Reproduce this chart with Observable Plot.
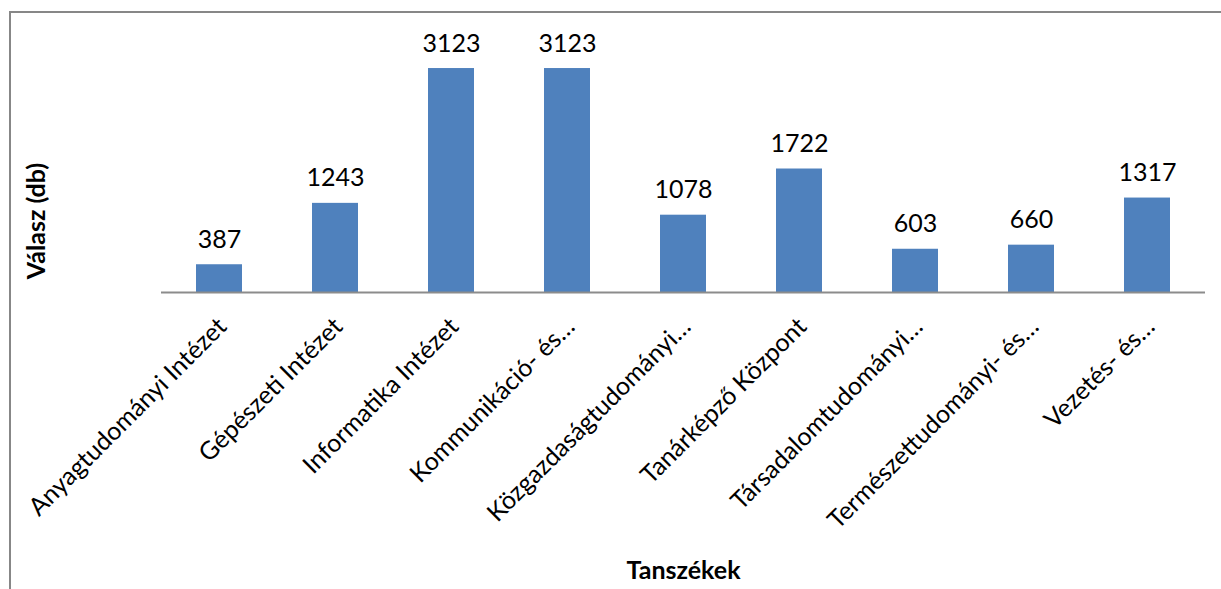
<!DOCTYPE html>
<html>
<head>
<meta charset="utf-8">
<script src="https://cdn.jsdelivr.net/npm/d3@7"></script>
<script src="https://cdn.jsdelivr.net/npm/@observablehq/plot@0.6"></script>
<style>
  html, body { margin: 0; padding: 0; background: #fff; }
  #wrap { position: relative; width: 1221px; height: 589px; overflow: hidden; }
  #wrap svg { position: absolute; left: 0; top: 0; }
  #border { position: absolute; left: 9px; top: 11px; width: 1300px; height: 700px;
            border-left: 2px solid #878787; border-top: 2px solid #878787; pointer-events: none; }
</style>
</head>
<body>
<div id="wrap"><div id="border"></div></div>
<script>
const categories = [
  "Anyagtudományi Intézet",
  "Gépészeti Intézet",
  "Informatika Intézet",
  "Kommunikáció- és…",
  "Közgazdaságtudományi…",
  "Tanárképző Központ",
  "Társadalomtudományi…",
  "Természettudományi- és…",
  "Vezetés- és…"
];
const values = [387, 1243, 3123, 3123, 1078, 1722, 603, 660, 1317];
const yTitle = "Válasz (db)";
const xTitle = "Tanszékek";

const data = categories.map((c, i) => ({category: c, value: values[i]}));

const W = 1221, H = 589;
const mL = 161, mR = 16, mT = 41, mB = 297;

const chart = Plot.plot({
  width: W,
  height: H,
  marginLeft: mL,
  marginRight: mR,
  marginTop: mT,
  marginBottom: mB,
  style: {fontFamily: "Lato, 'Open Sans', sans-serif", color: "#000", background: "transparent"},
  x: {domain: categories, paddingInner: 0.6, paddingOuter: 0.3, axis: null},
  y: {domain: [0, 3500], axis: null},
  marks: [
    Plot.barY(data, {x: "category", y: "value", fill: "#4F81BD"}),
    Plot.ruleY([0], {stroke: "#8c8c8c", strokeWidth: 2}),
    Plot.text(data, {x: "category", y: "value", text: d => String(d.value), lineAnchor: "bottom", dy: -17, fontSize: 25, fill: "#000"}),
    Plot.text(data, {x: "category", frameAnchor: "bottom", text: "category", rotate: -45, textAnchor: "end", lineAnchor: "middle", dx: 3, dy: 30, fontSize: 25, fill: "#000"}),
    Plot.text([yTitle], {frameAnchor: "left", text: d => d, rotate: -90, textAnchor: "middle", dx: -125, dy: 54, fontSize: 25, fontWeight: "bold", fill: "#000"}),
    Plot.text([xTitle], {frameAnchor: "bottom", text: d => d, dy: 286, fontSize: 25, fontWeight: "bold", fill: "#000"})
  ]
});
document.getElementById("wrap").appendChild(chart);
</script>
</body>
</html>
